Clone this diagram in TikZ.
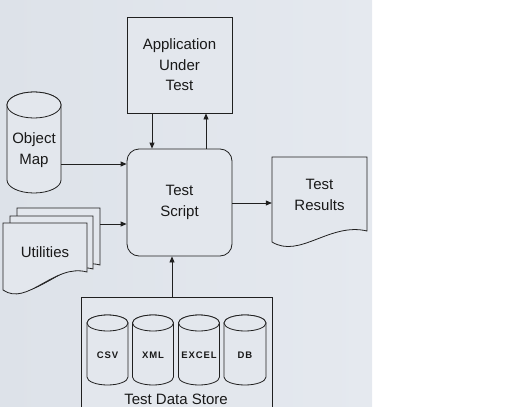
\documentclass[tikz,border=0pt]{standalone}
\usepackage{fontspec}
\setmainfont{Liberation Sans}
\usetikzlibrary{arrows.meta}
\definecolor{bgA}{HTML}{DDE2E9}
\definecolor{bgB}{HTML}{E5E9EF}
\definecolor{shp}{HTML}{E3E7ED}
\definecolor{ln}{HTML}{202020}
% cylinder: cx, r, top-centre y, bottom-centre y, ry (numbers in pt)
\newcommand{\mycyl}[5]{%
  \filldraw[box] (#1-#2,#3) -- (#1-#2,#4)
     arc[start angle=180,end angle=360,x radius=#2pt,y radius=#5pt]
     -- (#1+#2,#3)
     arc[start angle=0,end angle=180,x radius=#2pt,y radius=#5pt] -- cycle;
  \draw[box] (#1,#3) ellipse[x radius=#2pt,y radius=#5pt];}
% document: x1, x2, top, right-bottom y, left-bottom y
\newcommand{\mydoc}[5]{%
  \filldraw[box] (#1,#3) -- (#2,#3) -- (#2,#4)
     .. controls ({#2-0.39*(#2-#1)},{#4-9}) and ({#1+0.29*(#2-#1)},{#5+17}) .. (#1,#5) -- cycle;}
\begin{document}
\begin{tikzpicture}[x=1pt,y=-1pt,
  lbl/.style={font=\fontsize{15}{20.5}\selectfont, align=center, inner sep=0pt, text=black!90},
  box/.style={draw=ln, fill=shp, line width=0.8pt},
  arr/.style={draw=ln, line width=0.8pt, -{Triangle[length=6pt,width=5pt]}},
  small/.style={font=\fontsize{9.5}{11}\selectfont\bfseries\addfontfeature{LetterSpace=10}, inner sep=0pt, text=black!90}]
\useasboundingbox (0,0) rectangle (512,407);
\shade[left color=bgA, right color=bgB] (0,0) rectangle (372,407);

% Application Under Test
\node[box, lbl, minimum width=105pt, minimum height=96pt] (aut) at (179.5,65) {Application\\Under\\Test};
% Test Script
\node[box, lbl, rounded corners=12pt, minimum width=105pt, minimum height=107pt] (ts) at (179.5,202.5) {Test\\Script};

% Object Map
\mycyl{34}{27}{105}{180}{13}
\node[lbl, minimum width=54pt] (om) at (34,150) {Object\\Map};

% Utilities stack
\mydoc{17}{100}{208}{265}{283}
\mydoc{10}{93}{216}{269}{287}
\mydoc{3}{87}{223}{272}{290}
\node[minimum width=83pt, inner sep=0pt] (ub) at (58.5,236) {};
\node[lbl, minimum width=84pt] (ut) at (45,252) {Utilities};

% Test Results
\mydoc{272}{367}{157}{231}{242}
\node[lbl, minimum width=95pt] (tr) at (319.5,195) {Test\\Results};

% Test Data Store
\node[box, minimum width=191pt, minimum height=116pt, anchor=north west, inner sep=0pt] (tds) at (81,297) {};
\mycyl{107.5}{20.5}{323}{377}{8}
\mycyl{153}{20.5}{323}{377}{8}
\mycyl{199}{20.5}{323}{377}{8}
\mycyl{245}{21}{323}{377}{8}
\node[small] (csv) at (107.5,355) {CSV};
\node[small] (xml) at (153,355) {XML};
\node[small] (xls) at (199,355) {EXCEL};
\node[small] (db) at (245,355) {DB};
\node[lbl] (tdsl) at (176,399) {Test Data Store};

% connectors
\coordinate (a1) at (152,0);
\coordinate (a2) at (206,0);
\coordinate (omy) at (0,164);
\coordinate (uy) at (0,224);
\coordinate (ry) at (0,203);
\coordinate (dx) at (172,0);
\draw[arr] (aut.south -| a1) -- (ts.north -| a1);
\draw[arr] (ts.north -| a2) -- (aut.south -| a2);
\draw[arr] (om.east |- omy) -- (ts.west |- omy);
\draw[arr] (ub.east |- uy) -- (ts.west |- uy);
\draw[arr] (ts.east |- ry) -- (tr.west |- ry);
\draw[arr] (tds.north -| dx) -- (ts.south -| dx);
\end{tikzpicture}
\end{document}
